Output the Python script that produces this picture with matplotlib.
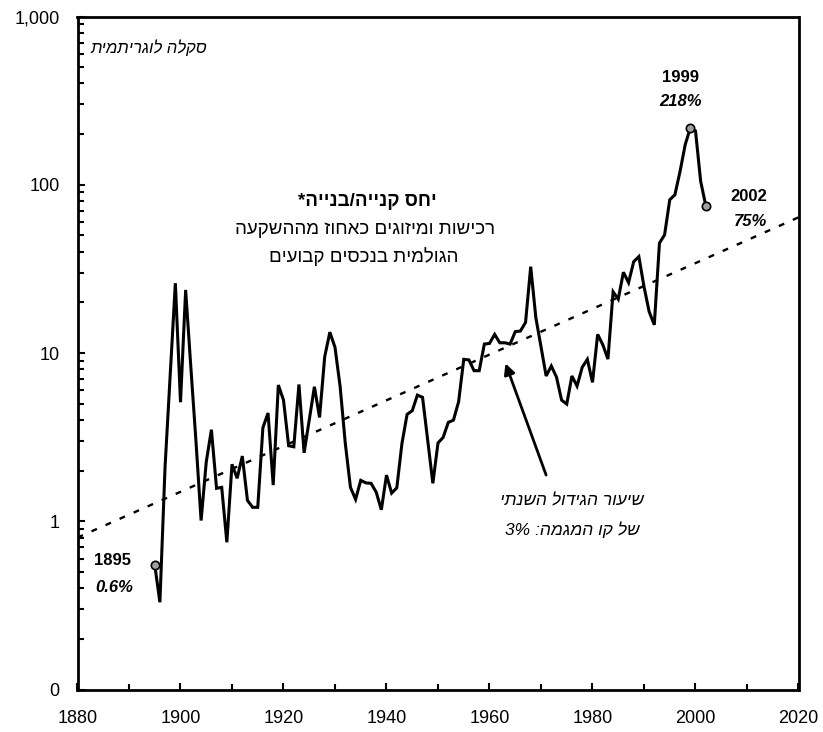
import matplotlib
matplotlib.use("Agg")
import matplotlib.pyplot as plt
from matplotlib.ticker import MultipleLocator, FixedLocator, LogLocator, NullFormatter
import numpy as np

plt.rcParams['font.family'] = ['Liberation Sans', 'DejaVu Sans']

years = list(range(1895, 2003))
ratio = [
    0.55, 0.33, 2.1, 7.4, 26.0, 5.1, 23.7, 8.3, 3.0, 1.01,
    2.25, 3.5, 1.57, 1.59, 0.75, 2.18, 1.80, 2.44, 1.33, 1.21,
    1.21, 3.6, 4.4, 1.64, 6.45, 5.25, 2.81, 2.77, 6.5, 2.55,
    4.0, 6.3, 4.14, 9.5, 13.3, 10.8, 6.3, 2.9, 1.59, 1.35,
    1.75, 1.69, 1.68, 1.49, 1.17, 1.88, 1.47, 1.58, 2.9, 4.32,
    4.54, 5.62, 5.45, 3.03, 1.68, 2.92, 3.15, 3.87, 3.99, 5.13,
    9.17, 9.1, 7.85, 7.85, 11.3, 11.4, 12.9, 11.5, 11.5, 11.3,
    13.4, 13.5, 15.2, 32.6, 16.2, 10.9, 7.3, 8.37, 7.2, 5.25,
    4.97, 7.3, 6.36, 8.22, 9.17, 6.69, 12.9, 11.2, 9.2, 23.1,
    20.9, 30.2, 26.2, 34.9, 37.4, 24.8, 17.6, 14.7, 45.0, 50.4,
    81.4, 87.2, 120.0, 173.0, 218.0, 209.0, 105.0, 75.0,
]
trend_years = [1880, 2020]
trend_values = [0.8, 64.0]

marked_years = [1895, 1999, 2002]
marked_labels = ["0.6%", "218%", "75%"]

ytick_values = [0.1, 1, 10, 100, 1000]
ytick_labels = ["0", "1", "10", "100", "1,000"]
xtick_values = list(range(1880, 2021, 20))


def rtl(s):
    return s[::-1]


fig = plt.figure(figsize=(8.23, 7.32), dpi=100)
ax = fig.add_axes([77.5 / 823, 1 - 689.5 / 732, 721 / 823, 673 / 732])

ax.plot(trend_years, trend_values, color='black', lw=1.7, linestyle=(0, (2.5, 4.0)))
ax.plot(years, ratio, color='black', lw=2.2, solid_joinstyle='miter', zorder=3)
mv = [ratio[years.index(y)] for y in marked_years]
ax.plot(marked_years, mv, linestyle='none', marker='o', markersize=6,
        markerfacecolor='#a0a0a0', markeredgecolor='black', markeredgewidth=1.2, zorder=4)

ax.set_yscale('log')
ax.set_xlim(1880, 2020)
ax.set_ylim(0.1, 1000)
ax.yaxis.set_major_locator(FixedLocator(ytick_values))
ax.set_yticklabels(ytick_labels)
ax.yaxis.set_minor_locator(LogLocator(base=10, subs=np.arange(2, 10)))
ax.yaxis.set_minor_formatter(NullFormatter())
ax.set_xticks(xtick_values)
ax.set_xticklabels([str(v) for v in xtick_values])
ax.xaxis.set_minor_locator(MultipleLocator(10))

ax.tick_params(axis='both', which='both', direction='in', width=1.5, labelsize=13, color='black')
ax.tick_params(axis='both', which='major', length=5)
ax.tick_params(axis='both', which='minor', length=4.5)
ax.tick_params(axis='x', pad=15)
ax.tick_params(axis='y', pad=13)
for s in ax.spines.values():
    s.set_linewidth(2.0)

T = ax.transAxes
ax.text(0.098, 0.953, rtl("סקלה לוגריתמית"), transform=T, ha='center', va='center',
        fontsize=12, style='italic')
ax.text(0.4015, 0.7244, rtl("יחס קנייה/בנייה*"), transform=T, ha='center', va='center',
        fontsize=13.5, fontweight='bold')
ax.text(0.399, 0.6828, rtl("רכישות ומיזוגים כאחוז מההשקעה"), transform=T, ha='center',
        va='center', fontsize=13.5)
ax.text(0.397, 0.6426, rtl("הגולמית בנכסים קבועים"), transform=T, ha='center',
        va='center', fontsize=13.5)
ax.text(0.686, 0.280, rtl("שיעור הגידול השנתי"), transform=T, ha='center', va='center',
        fontsize=12.5, style='italic')
ax.text(0.686, 0.237, "3%" + rtl("של קו המגמה: "), transform=T, ha='center', va='center',
        fontsize=12.5, style='italic')

label_pos = [((0.049, 0.191), (0.051, 0.152)),
             ((0.836, 0.910), (0.836, 0.873)),
             ((0.931, 0.732), (0.933, 0.696))]
for yr, lab, (p1, p2) in zip(marked_years, marked_labels, label_pos):
    ax.text(p1[0], p1[1], str(yr), transform=T, ha='center', va='center',
            fontsize=12, fontweight='bold')
    ax.text(p2[0], p2[1], lab, transform=T, ha='center', va='center',
            fontsize=12, fontweight='bold', style='italic')

ax.annotate("", xy=(1963.1, 8.68), xytext=(1971.0, 1.88),
            arrowprops=dict(arrowstyle='-|>', color='black', lw=2.0, mutation_scale=16,
                            shrinkA=0, shrinkB=0))

fig.savefig("out.png", dpi=100)
